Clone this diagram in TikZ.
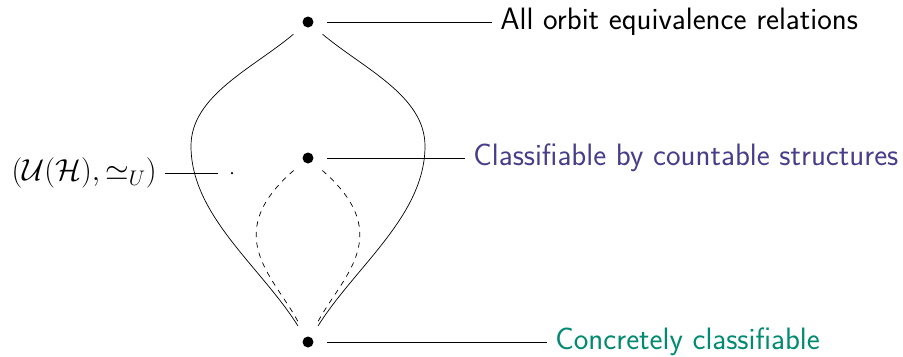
\documentclass[tikz,border=0pt]{standalone}
\usepackage{amsmath}
\usepackage{xcolor}
\usepackage{tikz}
\usetikzlibrary{positioning,calc}
\renewcommand{\familydefault}{\sfdefault}
\definecolor{ClassBlue}{HTML}{483D8B}
\definecolor{ConcGreen}{HTML}{008B70}

\begin{document}
\begin{tikzpicture}[
    font=\fontsize{17.6}{21}\selectfont,
    dot/.style={circle, fill=black, inner sep=0pt, minimum size=0.22cm, outer sep=0.27cm},
    smalldot/.style={circle, fill=black, inner sep=0pt, minimum size=0.05cm, outer sep=0.26cm},
    lbl/.style={inner sep=0.16cm},
    link/.style={draw=black}
]
\useasboundingbox (0,0) rectangle (18.06,-7.12);

\node[dot] (all) at (6.16,-0.44) {};
\node[dot] (countable) at (6.16,-3.16) {};
\node[dot] (concrete) at (6.16,-6.84) {};
\node[smalldot] (unitary) at (4.64,-3.46) {};
\coordinate (outerW) at (3.82,-2.92);
\coordinate (outerE) at (8.50,-2.92);

\node[lbl, anchor=west] (allL) at (9.84,-0.44) {All orbit equivalence relations};
\node[lbl, anchor=west, text=ClassBlue] (countableL) at (9.30,-3.16) {Classifiable by countable structures};
\node[lbl, anchor=west, text=ConcGreen] (concreteL) at (10.94,-6.84) {Concretely classifiable};
\node[lbl, anchor=east, font=\fontsize{17}{20}\selectfont] (unitaryL) at (3.30,-3.46) {$(\mathcal{U}(\mathcal{H}),\simeq_U)$};

% labels
\draw[link] (all) -- (allL);
\draw[link] (countable) -- (countableL);
\draw[link] (concrete) -- (concreteL);
\draw[link] (unitaryL) -- (unitary);

% outer region
\draw (all) to[out=220, in=90, out looseness=0.9, in looseness=0.85] (outerW)
            to[out=-90, in=122, out looseness=0.85, in looseness=0.85] (concrete);
\draw (all) to[out=-40, in=90, out looseness=0.9, in looseness=0.85] (outerE)
            to[out=-90, in=58, out looseness=0.85, in looseness=0.85] (concrete);

% inner region
\draw[dashed] (countable) .. controls +(221:2.4) and +(116:1.4) .. (concrete);
\draw[dashed] (countable) .. controls +(-41:2.4) and +(64:1.4) .. (concrete);
\end{tikzpicture}
\end{document}
